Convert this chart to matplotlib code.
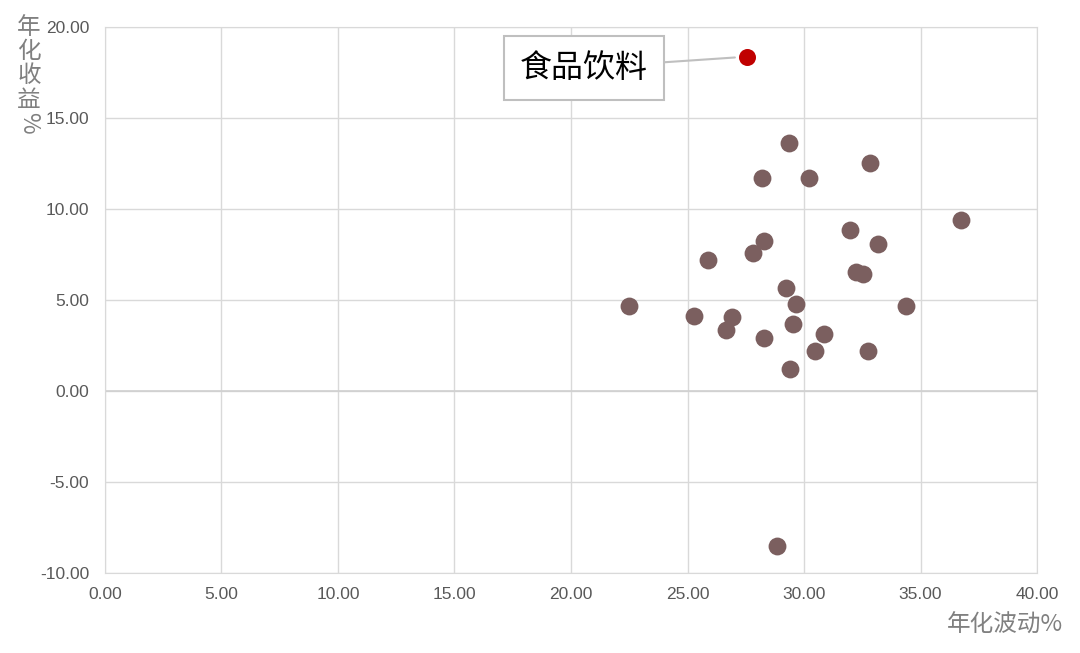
import matplotlib.pyplot as plt
import numpy as np

plt.rcParams['font.family'] = ['Liberation Sans', 'Noto Sans CJK SC', 'DejaVu Sans']

# annualised volatility (%) / annualised return (%) per industry
vol = [29.37, 32.83, 28.20, 30.20, 36.72, 31.96, 33.18, 28.27, 27.79, 25.87,
       32.23, 32.52, 29.23, 29.67, 22.47, 34.38, 25.30, 26.90, 26.64, 29.53,
       30.87, 28.29, 30.48, 32.73, 29.39, 28.86]
ret = [13.63, 12.53, 11.68, 11.68, 9.37, 8.82, 8.05, 8.22, 7.56, 7.18,
       6.52, 6.45, 5.66, 4.78, 4.67, 4.65, 4.10, 4.04, 3.37, 3.68,
       3.13, 2.89, 2.21, 2.20, 1.19, -8.50]

hl_name = '食品饮料'
hl_vol = 27.57
hl_ret = 18.37

xticks = np.arange(0, 40.1, 5)
yticks = np.arange(-10, 20.1, 5)

fig = plt.figure(figsize=(10.8, 6.53), dpi=100)
ax = fig.add_axes([0.0972, 0.1225, 0.8630, 0.8362])

ax.scatter(vol, ret, s=165, color='#7b5f5f', zorder=3, linewidths=0)
ax.scatter([hl_vol], [hl_ret], s=150, color='#c00000', zorder=3, linewidths=0)

ax.set_xlim(0, 40)
ax.set_ylim(-10, 20)
ax.set_xticks(xticks)
ax.set_yticks(yticks)
ax.set_xticklabels([f'{v:.2f}' for v in xticks])
ax.set_yticklabels([f'{v:.2f}' for v in yticks])
ax.tick_params(length=0, labelsize=12.5, colors='#595959')
ax.tick_params(axis='x', pad=10)
ax.tick_params(axis='y', pad=11.5)
ax.grid(True, color='#d9d9d9', lw=1)
ax.set_axisbelow(True)
for s in ax.spines.values():
    s.set_color('#d9d9d9')
ax.axhline(0, color='#d0d0d0', lw=1.2, zorder=1)

# callout label
cjk = ['Noto Sans CJK SC', 'DejaVu Sans']
ax.annotate(hl_name, xy=(hl_vol, hl_ret), xytext=(20.54, 17.76),
            textcoords='data', fontsize=23, ha='center', va='center',
            family=cjk, color='black',
            bbox=dict(boxstyle='square,pad=0.5', fc='white', ec='#bfbfbf', lw=1.5),
            arrowprops=dict(arrowstyle='-', color='#bfbfbf', lw=1.5, shrinkA=0, shrinkB=9),
            zorder=4)

# axis titles
fig.text(1063/1080, 1-625/653, '年化波动%', ha='right', va='center', fontsize=17,
         color='#808080', family=cjk)
for i, ch in enumerate('年化收益'):
    fig.text(29/1080, 1-(27+24.5*i)/653, ch, ha='center', va='center', fontsize=17,
             color='#808080', family=cjk)
fig.text(29/1080, 1-123/653, '%', ha='center', va='center', fontsize=17,
         color='#808080', family=cjk, rotation=-90)

fig.savefig('out.png', dpi=100)
